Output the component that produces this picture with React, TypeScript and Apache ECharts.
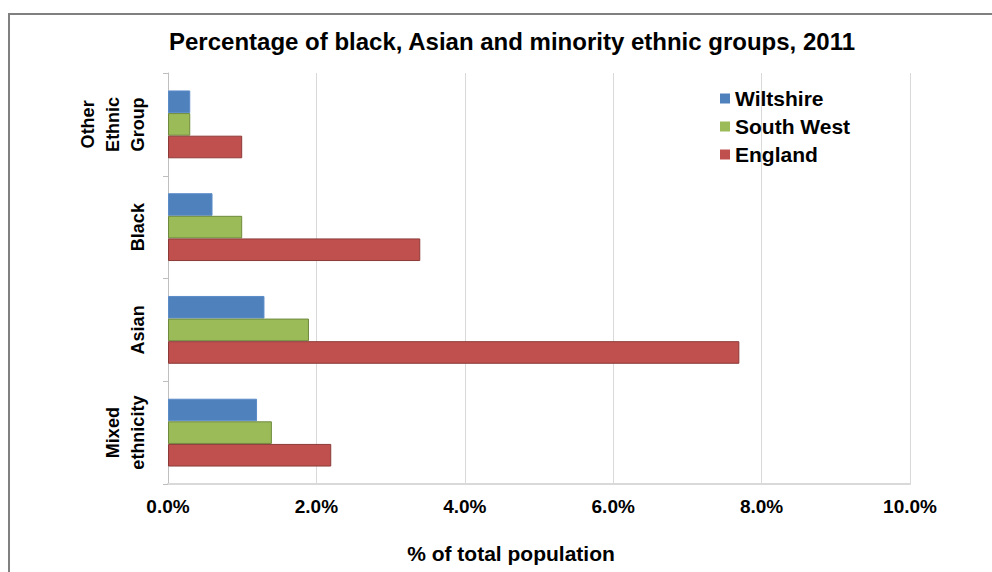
import React, { useEffect, useRef } from "react";
import * as echarts from "echarts";

const categories = ["Other\nEthnic\nGroup", "Black", "Asian", "Mixed\nethnicity"];
const wiltshire = [0.3, 0.6, 1.3, 1.2];
const southWest = [0.3, 1.0, 1.9, 1.4];
const england = [1.0, 3.4, 7.7, 2.2];
const seriesNames = ["Wiltshire", "South West", "England"];
const xTicks = [0, 2, 4, 6, 8, 10];

const FONT = "'Liberation Sans', Arial, sans-serif";

export default function App() {
  const ref = useRef<HTMLDivElement>(null);
  useEffect(() => {
    if (!ref.current) return;
    const chart = echarts.init(ref.current, null, { renderer: "svg" });
    const mk = (name: string, data: number[], color: string, border: string) => ({
      name,
      type: "bar",
      data,
      barGap: "0%",
      barCategoryGap: "34%",
      itemStyle: { color, borderColor: border, borderWidth: 1 },
    });
    chart.setOption({
      animation: false,
      backgroundColor: "#ffffff",
      textStyle: { fontFamily: FONT },
      title: {
        text: "Percentage of black, Asian and minority ethnic groups, 2011",
        left: 507,
        textAlign: "center",
        top: 24,
        textStyle: { fontFamily: FONT, fontSize: 24, fontWeight: "bold", color: "#000" },
      },
      legend: {
        data: seriesNames,
        orient: "vertical",
        left: 715,
        top: 83,
        icon: "rect",
        itemWidth: 10,
        itemHeight: 10,
        itemGap: 7,
        itemStyle: { borderWidth: 0 },
        textStyle: { fontFamily: FONT, fontSize: 21, fontWeight: "bold", color: "#000", lineHeight: 21 },
      },
      grid: { left: 168, right: 82, top: 73, bottom: 88, containLabel: false },
      xAxis: {
        type: "value",
        min: xTicks[0],
        max: xTicks[xTicks.length - 1],
        interval: 2,
        name: "% of total population",
        nameLocation: "middle",
        nameGap: 59,
        nameTextStyle: { fontFamily: FONT, fontSize: 21, fontWeight: "bold", color: "#000", padding: [0, 56, 0, 0] },
        axisLine: { show: true, lineStyle: { color: "#d9d9d9", width: 2 } },
        axisTick: { show: false },
        splitLine: { show: true, lineStyle: { color: "#d9d9d9", width: 1 } },
        axisLabel: {
          formatter: (v: number) => v.toFixed(1) + "%",
          fontFamily: FONT,
          fontSize: 19,
          fontWeight: "bold",
          color: "#000",
          margin: 13,
        },
      },
      yAxis: {
        type: "category",
        data: categories,
        inverse: true,
        axisLine: { show: true, lineStyle: { color: "#bfbfbf", width: 1 } },
        axisTick: { show: true, length: 5, lineStyle: { color: "#bfbfbf" } },
        axisLabel: {
          rotate: 90,
          fontFamily: FONT,
          fontSize: 18,
          fontWeight: "bold",
          color: "#000",
          lineHeight: 25,
          margin: 18,
        },
      },
      graphic: [
        {
          type: "rect",
          shape: { x: 9, y: 14, width: 1100, height: 700 },
          style: { fill: "none", stroke: "#808080", lineWidth: 2 },
          silent: true,
        },
      ],
      series: [
        mk(seriesNames[0], wiltshire, "#4f81bd", "#5b8cc8"),
        mk(seriesNames[1], southWest, "#9bbb59", "#6f8a3d"),
        mk(seriesNames[2], england, "#c0504d", "#8c3a38"),
      ],
    });
    return () => chart.dispose();
  }, []);
  return (
    <div
      ref={ref}
      style={{ position: "fixed", left: 0, top: 0, width: 992, height: 572 }}
    />
  );
}
